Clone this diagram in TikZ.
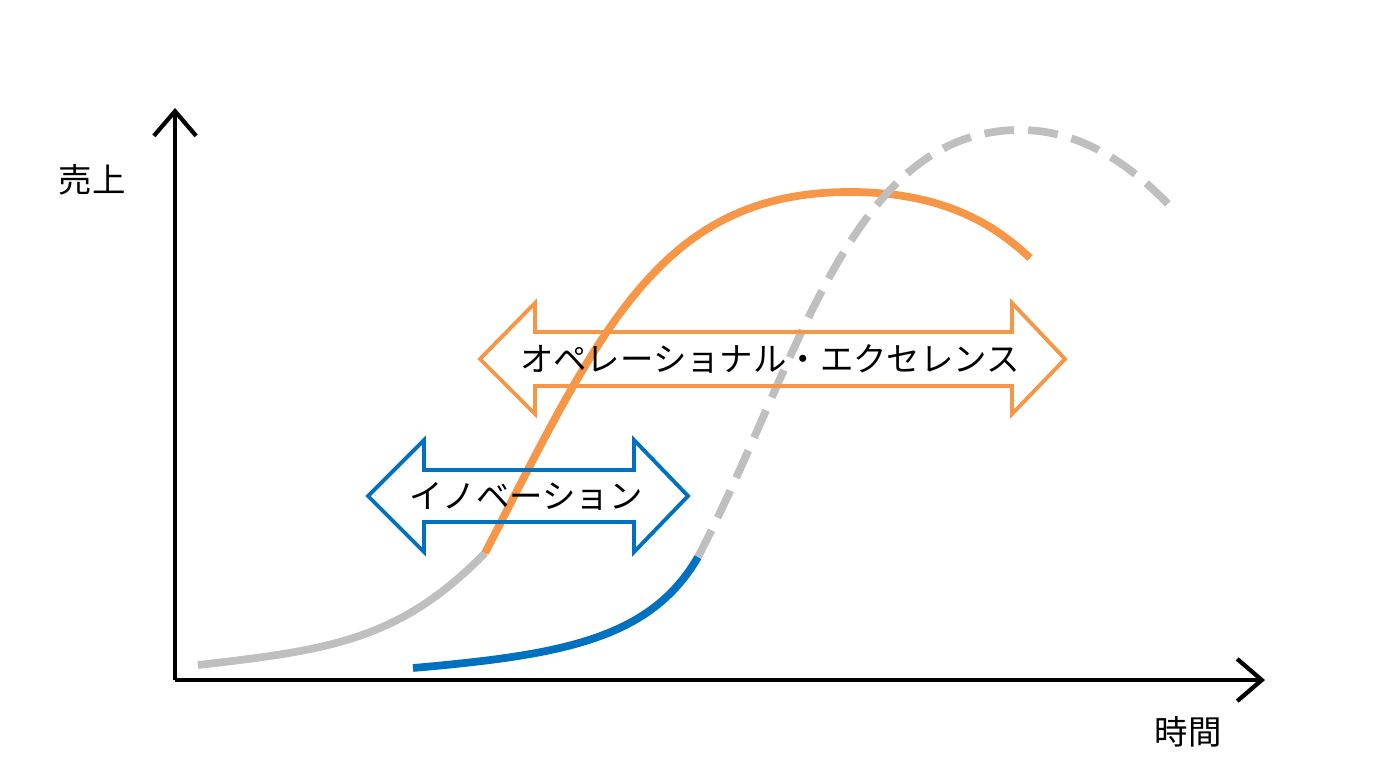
\documentclass[tikz,border=0pt]{standalone}
\usepackage{fontspec}
\newfontfamily\jpfont{Noto Sans CJK JP}
\usetikzlibrary{arrows.meta}
\definecolor{opor}{HTML}{F79646}
\definecolor{innob}{HTML}{0070C0}
\definecolor{lgray}{HTML}{BFBFBF}
\tikzset{
  axisline/.style={line width=1.2pt,-{Straight Barb[length=7pt,width=12pt,line width=1.2pt]}},
  curveline/.style={line width=2.2pt},
  label/.style={font=\jpfont\fontsize{9.5}{11}\selectfont},
  dblarrow/.style={line width=1.1pt}
}
\begin{document}
\begin{tikzpicture}[x=0.01cm,y=-0.01cm]
  \useasboundingbox (0,0) rectangle (1386,776);

  %% axes
  \coordinate (origin) at (175,680);
  \coordinate (ytop) at (175,108);
  \coordinate (xend) at (1265,680);
  \draw[axisline] (origin) -- (ytop);
  \draw[axisline] (origin) -- (xend);
  \node[label] (sales) at (92,180) {売上};
  \node[label] (time) at (1188,732) {時間};

  %% first curve
  \draw[curveline,lgray] (198,665) .. controls (330,650) and (400,640) .. (485,553);
  \draw[curveline,opor] (485,553) .. controls (600,330) and (660,192) .. (850,192)
    .. controls (950,192) and (1000,230) .. (1030,258);

  %% second curve
  \draw[curveline,innob] (413,668) .. controls (560,655) and (650,640) .. (698,557);
  \draw[curveline,lgray,dash pattern=on 8.5pt off 4pt] (698,557) .. controls (800,360) and (850,130) .. (1020,130)
    .. controls (1090,130) and (1140,175) .. (1172,208);

  %% operational excellence
  \draw[dblarrow,opor] (480,359) -- (535,303) -- (535,332) -- (1012,332) -- (1012,303)
    -- (1065,359) -- (1012,414) -- (1012,386) -- (535,386) -- (535,414) -- cycle;
  \node[label] (opex) at (770,359) {オペレーショナル・エクセレンス};

  %% innovation
  \draw[dblarrow,innob] (368,496) -- (424,440) -- (424,470) -- (634,470) -- (634,440)
    -- (688,496) -- (634,552) -- (634,522) -- (424,522) -- (424,552) -- cycle;
  \node[label] (inno) at (526,496) {イノベーション};
\end{tikzpicture}
\end{document}
